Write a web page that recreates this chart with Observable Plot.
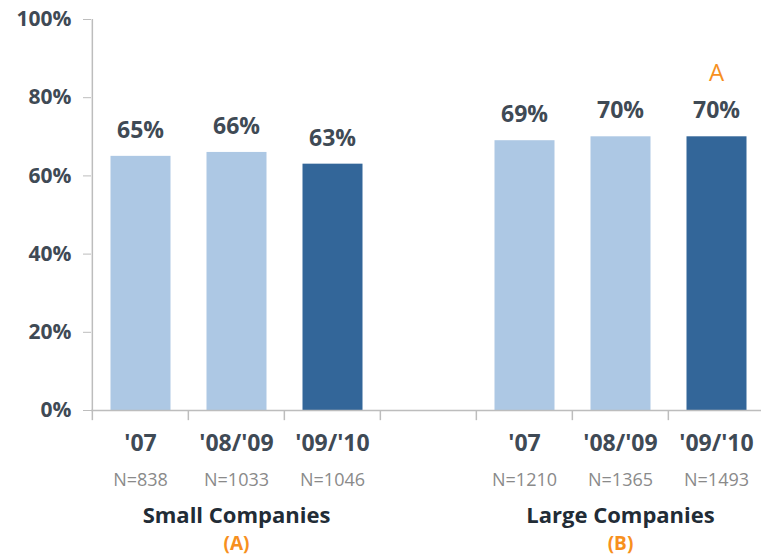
<!DOCTYPE html>
<html><head><meta charset="utf-8">
<script src="https://cdn.jsdelivr.net/npm/d3@7"></script>
<script src="https://cdn.jsdelivr.net/npm/@observablehq/plot@0.6"></script>
<style>body{margin:0;background:#fff;} svg{display:block;}</style>
</head><body><div id="chart"></div>
<script>
const periods = ["'07", "'08/'09", "'09/'10"];
const groups = ["Small Companies", "Large Companies"];
const groupLetters = ["(A)", "(B)"];
const smallValues = [65, 66, 63];
const largeValues = [69, 70, 70];
const smallN = [838, 1033, 1046];
const largeN = [1210, 1365, 1493];
const yTicks = [0, 20, 40, 60, 80, 100];
const sigMarks = [{group: 1, period: 2, label: "A"}];

const slots = ["S0", "S1", "S2", "gap", "L0", "L1", "L2"];
const rows = [];
[smallValues, largeValues].forEach((vals, g) => {
  const ns = g === 0 ? smallN : largeN;
  vals.forEach((v, i) => rows.push({
    slot: (g === 0 ? "S" : "L") + i, period: periods[i], value: v,
    n: "N=" + ns[i], current: i === periods.length - 1, group: g
  }));
});
const groupRows = groups.map((name, g) => ({slot: (g === 0 ? "S" : "L") + 1, name, letter: groupLetters[g]}));
const sigRows = sigMarks.map(s => ({slot: (s.group === 0 ? "S" : "L") + s.period, value: (s.group === 0 ? smallValues : largeValues)[s.period], label: s.label}));

const font = "Open Sans";
const dark = "#3f4a55";
const step = 96.3;
const x0 = 90.5;

const chart = Plot.plot({
  width: 761, height: 556,
  marginTop: 19, marginBottom: 146, marginLeft: 91, marginRight: 0,
  style: {fontFamily: font, background: "#fff"},
  x: {type: "band", domain: slots, range: [x0, x0 + step * slots.length], padding: 0, axis: null},
  y: {domain: [0, 100], axis: null, label: null},
  marks: [
    Plot.barY(rows, {x: "slot", y: "value", fill: d => d.current ? "#336699" : "#adc8e4", insetLeft: 18.5, insetRight: 17.5}),
    Plot.ruleY([0], {stroke: "#bdbdbd", strokeWidth: 1.5}),
    Plot.ruleX([slots[0]], {y1: 0, y2: 100, dx: -step / 2, stroke: "#bdbdbd", strokeWidth: 1.5}),
    Plot.ruleX(slots, {y1: 0, y2: -2.6, dx: -step / 2, stroke: "#bdbdbd", strokeWidth: 1.5}),
    Plot.axisY({ticks: yTicks, tickFormat: d => d + "%", tickSize: 8, tickPadding: 12, stroke: "#bdbdbd", fill: dark, fontSize: 21, fontWeight: "bold", anchor: "left", label: null}),
    Plot.text(rows, {x: "slot", y: "value", text: d => d.value + "%", dy: -26, fill: dark, fontSize: 23, fontWeight: "bold"}),
    Plot.text(rows, {x: "slot", y: 0, text: "period", dy: 33, fill: dark, fontSize: 23, fontWeight: "bold"}),
    Plot.text(rows, {x: "slot", y: 0, text: "n", dy: 70, fill: "#8a8a8a", fontSize: 18}),
    Plot.text(groupRows, {x: "slot", y: 0, text: "name", dy: 105, fill: "#222c36", fontSize: 22, fontWeight: "bold"}),
    Plot.text(groupRows, {x: "slot", y: 0, text: "letter", dy: 133, fill: "#f7901e", fontSize: 19, fontWeight: "bold"}),
    Plot.text(sigRows, {x: "slot", y: "value", text: "label", dy: -63, fill: "#f7901e", fontSize: 24})
  ]
});
document.getElementById("chart").append(chart);
</script>
</body></html>
